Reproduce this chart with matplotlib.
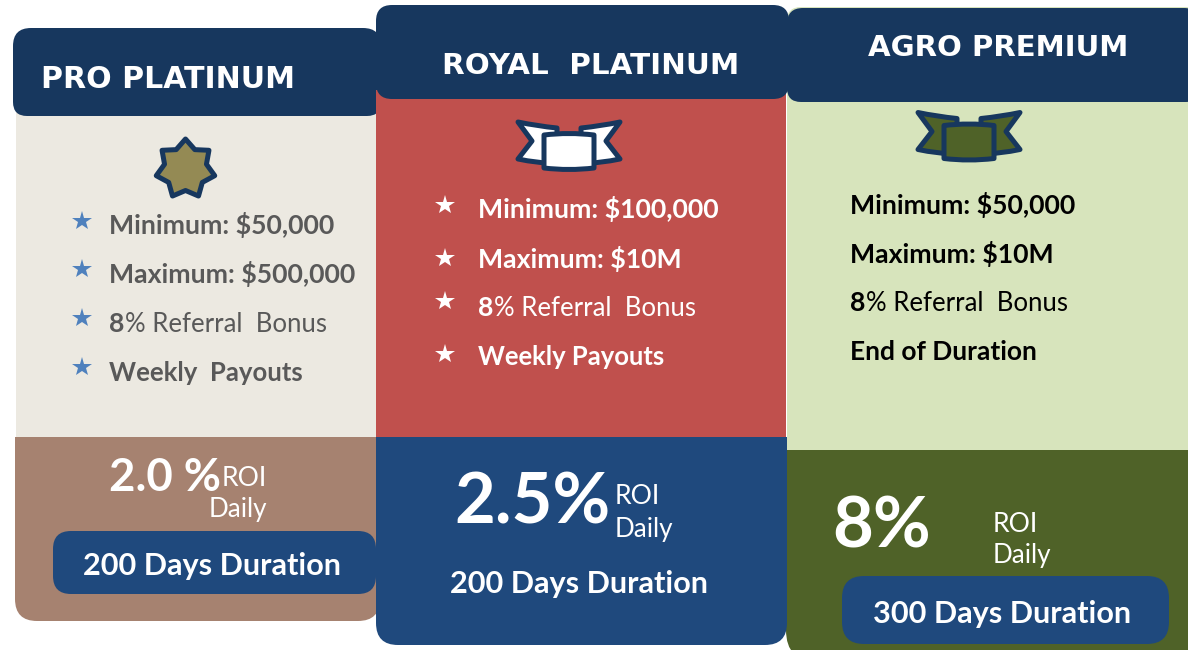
'''
three investment plan cards drawn in pixel coords
'''
import numpy as np
import matplotlib
matplotlib.use('Agg')
import matplotlib.pyplot as plt
from matplotlib.patches import PathPatch, Polygon
from matplotlib.path import Path

W, H = 1188, 650
PX = 0.72  # px to pt at dpi 100

NAVY = '#17375E'
BLUE = '#1F497D'

plan_names = ['PRO PLATINUM', 'ROYAL  PLATINUM', 'AGRO PREMIUM']
minimums = ['Minimum: $50,000', 'Minimum: $100,000', 'Minimum: $50,000']
maximums = ['Maximum: $500,000', 'Maximum: $10M', 'Maximum: $10M']
referrals = ['8', '8', '8']
referral_rest = '% Referral  Bonus'
payouts = ['Weekly  Payouts', 'Weekly Payouts', 'End of Duration']
roi_values = ['2.0 %', '2.5%', '8%']
durations = ['200 Days Duration', '200 Days Duration', '300 Days Duration']


def round_rect(ax, x0, y0, x1, y1, radii, color, zorder=1):
    '''
    rectangle with own radius per corner: tl, tr, br, bl
    '''
    tl, tr, br, bl = radii
    verts = [(x0 + tl, y0), (x1 - tr, y0), (x1, y0), (x1, y0 + tr),
             (x1, y1 - br), (x1, y1), (x1 - br, y1),
             (x0 + bl, y1), (x0, y1), (x0, y1 - bl),
             (x0, y0 + tl), (x0, y0), (x0 + tl, y0), (x0 + tl, y0)]
    codes = [Path.MOVETO, Path.LINETO, Path.CURVE3, Path.CURVE3,
             Path.LINETO, Path.CURVE3, Path.CURVE3,
             Path.LINETO, Path.CURVE3, Path.CURVE3,
             Path.LINETO, Path.CURVE3, Path.CURVE3, Path.CLOSEPOLY]
    ax.add_patch(PathPatch(Path(verts, codes), facecolor=color,
                           edgecolor='none', zorder=zorder))


def put_text(ax, x, y, text, size, color, weight='regular', family='Lato',
             ha='left'):
    return ax.text(x, y, text, fontsize=size * PX, color=color,
                   fontweight=weight, family=family, ha=ha,
                   va='center_baseline', zorder=6)


def seven_star(ax, cx, cy, r_out, r_in, face):
    pts = []
    for i in range(14):
        r = r_out if i % 2 == 0 else r_in
        a = np.pi * i / 7
        pts.append((cx + r * np.sin(a), cy - r * np.cos(a)))
    ax.add_patch(Polygon(pts, closed=True, facecolor=face, edgecolor=NAVY,
                         linewidth=5 * PX, joinstyle='round', zorder=4))


def ribbon(ax, cx, cy, face):
    '''
    banner with two swallow tails, cx/cy is the centre of the middle piece
    '''
    line = dict(facecolor=face, edgecolor=NAVY, linewidth=5 * PX,
                joinstyle='round', zorder=4)
    for side in (-1, 1):
        verts = [(cx + side * 12, cy - 18), (cx + side * 32, cy - 20),
                 (cx + side * 51, cy - 24), (cx + side * 37, cy - 5),
                 (cx + side * 51, cy + 13), (cx + side * 32, cy + 17),
                 (cx + side * 12, cy + 18), (cx + side * 12, cy - 18)]
        codes = [Path.MOVETO, Path.CURVE3, Path.CURVE3, Path.LINETO,
                 Path.LINETO, Path.CURVE3, Path.CURVE3, Path.CLOSEPOLY]
        ax.add_patch(PathPatch(Path(verts, codes), **line))
    verts = [(cx - 25, cy - 11), (cx, cy - 14), (cx + 25, cy - 11),
             (cx + 25, cy + 22), (cx, cy + 25), (cx - 25, cy + 22),
             (cx - 25, cy - 11)]
    codes = [Path.MOVETO, Path.CURVE3, Path.CURVE3, Path.LINETO,
             Path.CURVE3, Path.CURVE3, Path.CLOSEPOLY]
    ax.add_patch(PathPatch(Path(verts, codes), **line))


def feature_lines(ax, fig, i, x, ys, color, payout_size):
    put_text(ax, x, ys[0], minimums[i], 26.6, color, 'bold')
    put_text(ax, x, ys[1], maximums[i], 26.6, color, 'bold')
    bold = put_text(ax, x, ys[2], referrals[i], 26.6, color, 'bold')
    box = bold.get_window_extent(fig.canvas.get_renderer())
    put_text(ax, x + box.width + 1, ys[2], referral_rest, 25.8, color)
    put_text(ax, x, ys[3], payouts[i], payout_size, color, 'bold')


def draw_stars(ax, x, ys, color):
    for y in ys:
        ax.plot([x], [y], marker='*', markersize=21 * PX, color=color,
                markeredgewidth=0, zorder=5)


def main():
    fig = plt.figure(figsize=(W / 100, H / 100), dpi=100, facecolor='white')
    ax = fig.add_axes([0, 0, 1, 1])
    ax.set_xlim(0, W)
    ax.set_ylim(H, 0)
    ax.axis('off')

    # card 1
    round_rect(ax, 16, 100, 376, 440, (0, 0, 0, 0), '#ECE9E1', 1)
    round_rect(ax, 15, 437, 380, 621, (0, 0, 22, 22), '#A68270', 1)
    round_rect(ax, 13, 28, 381, 116, (18, 18, 14, 14), NAVY, 2)

    # card 3
    round_rect(ax, 787, 7, 1200, 452, (14, 14, 0, 0), '#D7E4BC', 1)
    round_rect(ax, 786, 450, 1200, 662, (0, 0, 0, 32), '#4F6228', 1)
    round_rect(ax, 787, 8, 1200, 102, (16, 16, 14, 14), NAVY, 2)

    # card 2 sits over the others
    round_rect(ax, 376, 90, 786, 440, (0, 0, 0, 0), '#C0504D', 3)
    round_rect(ax, 376, 437, 787, 645, (0, 0, 22, 22), BLUE, 3)
    round_rect(ax, 376, 5, 789, 99, (16, 16, 16, 16), NAVY, 3)

    # titles
    put_text(ax, 41, 76, plan_names[0], 30, 'white', 'bold', 'DejaVu Sans')
    put_text(ax, 442, 63, plan_names[1], 29.4, 'white', 'bold', 'DejaVu Sans')
    put_text(ax, 868, 45, plan_names[2], 29.2, 'white', 'bold', 'DejaVu Sans')

    # icons
    seven_star(ax, 185.5, 169, 30, 21.5, '#948A54')
    ribbon(ax, 569, 146, 'white')
    ribbon(ax, 969, 136.5, '#4F6228')

    # features
    draw_stars(ax, 82, [221, 269, 318, 367], '#4F81BD')
    feature_lines(ax, fig, 0, 109, [222.5, 272, 322, 371], '#595959', 25.7)
    draw_stars(ax, 445, [205, 258, 301, 354], 'white')
    feature_lines(ax, fig, 1, 478, [207.5, 257, 306, 355], 'white', 25.6)
    feature_lines(ax, fig, 2, 850, [202.5, 252, 301, 350], 'black', 26.4)

    # roi block
    put_text(ax, 109, 474, roi_values[0], 45.5, 'white', 'bold')
    put_text(ax, 222, 475.5, 'ROI', 26.5, 'white')
    put_text(ax, 209, 507.5, 'Daily', 26, 'white')
    put_text(ax, 454, 496.5, roi_values[1], 70.5, 'white', 'bold')
    put_text(ax, 615, 494.5, 'ROI', 26.5, 'white')
    put_text(ax, 615, 526.5, 'Daily', 26, 'white')
    put_text(ax, 832, 521.5, roi_values[2], 70.5, 'white', 'bold')
    put_text(ax, 993, 521.5, 'ROI', 26.5, 'white')
    put_text(ax, 993, 553.5, 'Daily', 26, 'white')

    # duration
    round_rect(ax, 53, 531, 376, 594, (18, 18, 18, 18), BLUE, 4)
    round_rect(ax, 842, 576, 1169, 644, (22, 22, 22, 22), BLUE, 4)
    put_text(ax, 83, 564, durations[0], 30.6, 'white', 'bold')
    put_text(ax, 450, 581, durations[1], 30.6, 'white', 'bold')
    put_text(ax, 873, 611, durations[2], 30.6, 'white', 'bold')

    fig.savefig('out.png', dpi=100)
    plt.close(fig)


main()
